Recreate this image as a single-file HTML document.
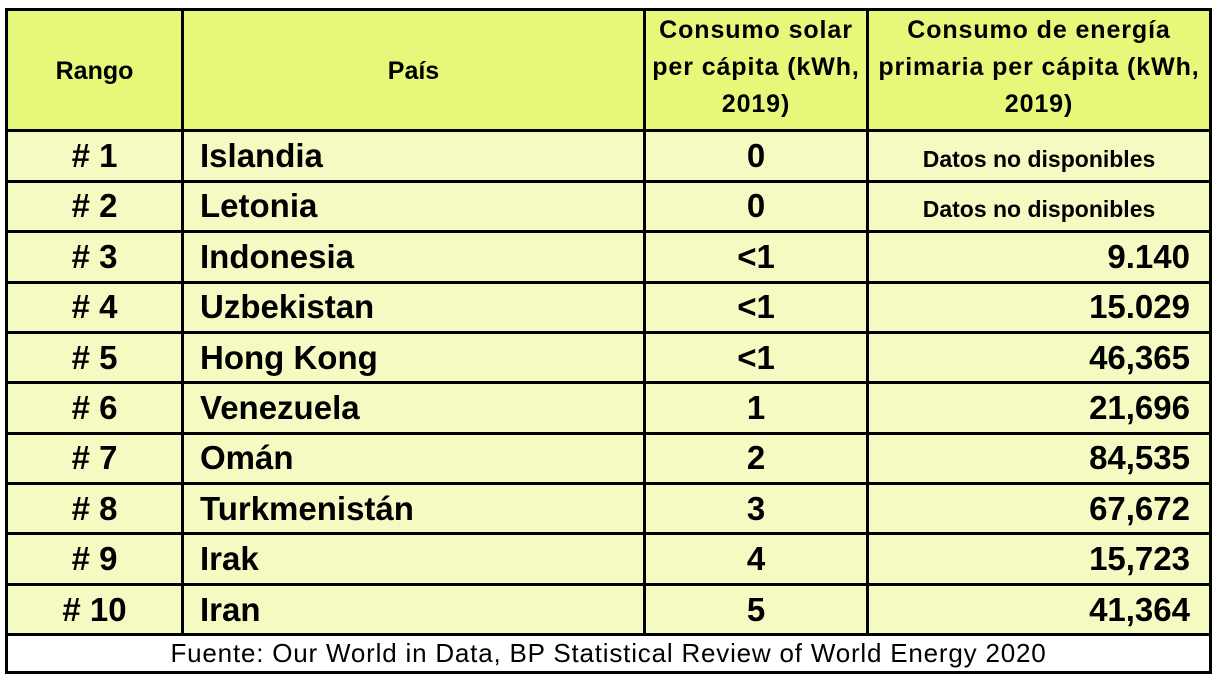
<!DOCTYPE html>
<html>
<head>
<meta charset="utf-8">
<style>
  html,body{margin:0;padding:0;background:#fff;}
  body{width:1215px;height:684px;position:relative;overflow:hidden;font-family:"Liberation Sans",Arial,sans-serif;color:#000;}
  .ln{position:absolute;background:#000;}
  .bg{position:absolute;}
  .t{position:absolute;white-space:nowrap;}
  .hd{font-weight:bold;font-size:25px;letter-spacing:0.9px;line-height:37px;text-align:center;}
  .hs{font-weight:bold;font-size:25px;line-height:36px;text-align:center;}
  .row{position:absolute;left:0;width:1215px;height:48px;}
  .row div{position:absolute;top:0;height:48px;line-height:48px;font-size:33px;font-weight:bold;white-space:nowrap;}
  .c1{left:8px;width:173px;text-align:center;}
  .c2{left:200px;width:440px;text-align:left;}
  .c3{left:646px;width:220px;text-align:center;}
  .c4{left:869px;width:321px;text-align:right;}
  .row div.nd{font-size:23px;text-align:center;width:340px;top:3px;}
  .foot{position:absolute;left:8px;width:1201px;top:636px;height:35px;line-height:35px;font-size:26px;letter-spacing:0.8px;text-align:center;white-space:nowrap;}
</style>
</head>
<body>
<!-- backgrounds -->
<div class="bg" style="left:8px;top:11px;width:1201px;height:118px;background:#e6f77a;"></div>
<div class="bg" style="left:8px;top:132px;width:1201px;height:501px;background:#f5fac2;"></div>

<!-- header text -->
<div class="t hs" style="left:8px;top:53px;width:173px;">Rango</div>
<div class="t hs" style="left:184px;top:53px;width:459px;">País</div>
<div class="t hd" style="left:646px;top:12px;width:220px;">Consumo solar<br>per cápita (kWh,<br>2019)</div>
<div class="t hd" style="left:869px;top:12px;width:340px;">Consumo de energía<br>primaria per cápita (kWh,<br>2019)</div>

<!-- rows -->
<div class="row" style="top:132px;"><div class="c1"># 1</div><div class="c2">Islandia</div><div class="c3">0</div><div class="c4 nd" style="left:869px;">Datos no disponibles</div></div>
<div class="row" style="top:182.4px;"><div class="c1"># 2</div><div class="c2">Letonia</div><div class="c3">0</div><div class="c4 nd" style="left:869px;">Datos no disponibles</div></div>
<div class="row" style="top:232.8px;"><div class="c1"># 3</div><div class="c2">Indonesia</div><div class="c3">&lt;1</div><div class="c4">9.140</div></div>
<div class="row" style="top:283.2px;"><div class="c1"># 4</div><div class="c2">Uzbekistan</div><div class="c3">&lt;1</div><div class="c4">15.029</div></div>
<div class="row" style="top:333.6px;"><div class="c1"># 5</div><div class="c2">Hong Kong</div><div class="c3">&lt;1</div><div class="c4">46,365</div></div>
<div class="row" style="top:384px;"><div class="c1"># 6</div><div class="c2">Venezuela</div><div class="c3">1</div><div class="c4">21,696</div></div>
<div class="row" style="top:434.4px;"><div class="c1"># 7</div><div class="c2">Omán</div><div class="c3">2</div><div class="c4">84,535</div></div>
<div class="row" style="top:484.8px;"><div class="c1"># 8</div><div class="c2">Turkmenistán</div><div class="c3">3</div><div class="c4">67,672</div></div>
<div class="row" style="top:535.2px;"><div class="c1"># 9</div><div class="c2">Irak</div><div class="c3">4</div><div class="c4">15,723</div></div>
<div class="row" style="top:585.6px;"><div class="c1"># 10</div><div class="c2">Iran</div><div class="c3">5</div><div class="c4">41,364</div></div>

<!-- footer -->
<div class="foot">Fuente: Our World in Data, BP Statistical Review of World Energy 2020</div>

<!-- outer border -->
<div class="ln" style="left:5px;top:8px;width:1207px;height:3px;"></div>
<div class="ln" style="left:5px;top:671px;width:1207px;height:3px;"></div>
<div class="ln" style="left:5px;top:8px;width:3px;height:666px;"></div>
<div class="ln" style="left:1209px;top:8px;width:3px;height:666px;"></div>

<!-- inner vertical lines -->
<div class="ln" style="left:181px;top:8px;width:3px;height:628px;"></div>
<div class="ln" style="left:643px;top:8px;width:3px;height:628px;"></div>
<div class="ln" style="left:866px;top:8px;width:3px;height:628px;"></div>

<!-- horizontal lines -->
<div class="ln" style="left:5px;top:129px;width:1207px;height:3px;"></div>
<div class="ln" style="left:5px;top:180px;width:1207px;height:3px;"></div>
<div class="ln" style="left:5px;top:230px;width:1207px;height:3px;"></div>
<div class="ln" style="left:5px;top:281px;width:1207px;height:3px;"></div>
<div class="ln" style="left:5px;top:331px;width:1207px;height:3px;"></div>
<div class="ln" style="left:5px;top:381px;width:1207px;height:3px;"></div>
<div class="ln" style="left:5px;top:432px;width:1207px;height:3px;"></div>
<div class="ln" style="left:5px;top:482px;width:1207px;height:3px;"></div>
<div class="ln" style="left:5px;top:532px;width:1207px;height:3px;"></div>
<div class="ln" style="left:5px;top:583px;width:1207px;height:3px;"></div>
<div class="ln" style="left:5px;top:633px;width:1207px;height:3px;"></div>
</body>
</html>
